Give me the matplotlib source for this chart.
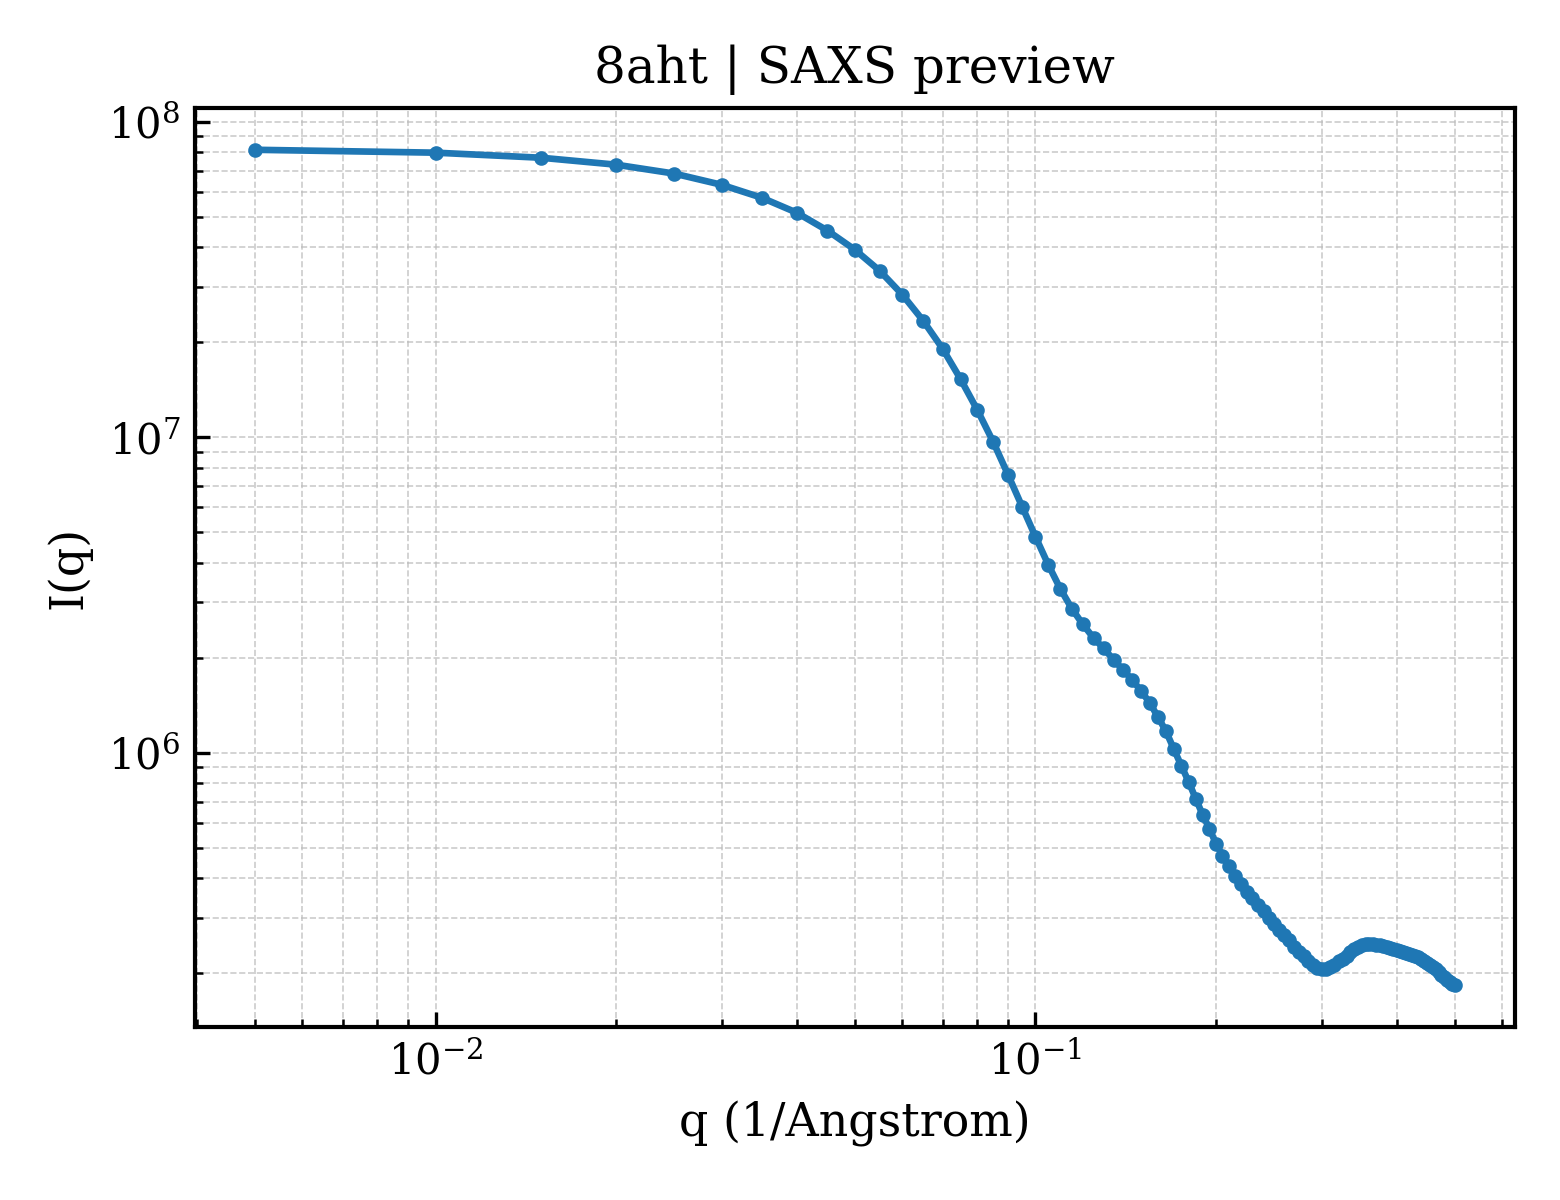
import numpy as np
import matplotlib
matplotlib.use("Agg")
import matplotlib.pyplot as plt

plt.rcParams['font.family'] = ['DejaVu Serif']
plt.rcParams['mathtext.fontset'] = 'dejavuserif'

# q grid (1/Angstrom)
q = [0.005, 0.010, 0.015, 0.020, 0.025, 0.030, 0.035, 0.040, 0.045, 0.050,
     0.055, 0.060, 0.065, 0.070, 0.075, 0.080, 0.085, 0.090, 0.095, 0.100,
     0.105, 0.110, 0.115, 0.120, 0.125, 0.130, 0.135, 0.140, 0.145, 0.150,
     0.155, 0.160, 0.165, 0.170, 0.175, 0.180, 0.185, 0.190, 0.195, 0.200,
     0.205, 0.210, 0.215, 0.220, 0.225, 0.230, 0.235, 0.240, 0.245, 0.250,
     0.255, 0.260, 0.265, 0.270, 0.275, 0.280, 0.285, 0.290, 0.295, 0.300,
     0.305, 0.310, 0.315, 0.320, 0.325, 0.330, 0.335, 0.340, 0.345, 0.350,
     0.355, 0.360, 0.365, 0.370, 0.375, 0.380, 0.385, 0.390, 0.395, 0.400,
     0.405, 0.410, 0.415, 0.420, 0.425, 0.430, 0.435, 0.440, 0.445, 0.450,
     0.455, 0.460, 0.465, 0.470, 0.475, 0.480, 0.485, 0.490, 0.495, 0.500]

# intensity
intensity = [8.15e7, 7.98e7, 7.69e7, 7.31e7, 6.85e7, 6.31e7, 5.74e7, 5.15e7, 4.52e7, 3.93e7,
             3.37e7, 2.83e7, 2.34e7, 1.91e7, 1.53e7, 1.22e7, 9.68e6, 7.61e6, 6.03e6, 4.84e6,
             3.95e6, 3.31e6, 2.86e6, 2.55e6, 2.31e6, 2.14e6, 1.97e6, 1.83e6, 1.70e6, 1.57e6,
             1.44e6, 1.30e6, 1.17e6, 1.03e6, 9.10e5, 8.10e5, 7.15e5, 6.36e5, 5.74e5, 5.15e5,
             4.72e5, 4.39e5, 4.08e5, 3.85e5, 3.63e5, 3.47e5, 3.30e5, 3.16e5, 3.00e5, 2.87e5,
             2.75e5, 2.65e5, 2.54e5, 2.43e5, 2.34e5, 2.27e5, 2.19e5, 2.13e5, 2.08e5, 2.07e5,
             2.07e5, 2.10e5, 2.13e5, 2.18e5, 2.22e5, 2.27e5, 2.34e5, 2.39e5, 2.43e5, 2.46e5,
             2.48e5, 2.48e5, 2.48e5, 2.46e5, 2.45e5, 2.44e5, 2.43e5, 2.41e5, 2.39e5, 2.37e5,
             2.36e5, 2.34e5, 2.32e5, 2.31e5, 2.29e5, 2.27e5, 2.25e5, 2.22e5, 2.19e5, 2.16e5,
             2.13e5, 2.10e5, 2.06e5, 2.02e5, 1.98e5, 1.94e5, 1.91e5, 1.88e5, 1.85e5, 1.83e5]

title = "8aht | SAXS preview"
xlabel = "q (1/Angstrom)"
ylabel = "I(q)"

fig, ax = plt.subplots(figsize=(5.2, 4), dpi=300)
ax.plot(q, intensity, '-o', color='#1f77b4', lw=1.6, ms=2.5)
ax.set_xscale('log')
ax.set_yscale('log')
ax.set_title(title, fontsize=12)
ax.set_xlabel(xlabel, fontsize=11)
ax.set_ylabel(ylabel, fontsize=11)
ax.tick_params(which='both', direction='in', labelsize=10)
ax.grid(True, which='both', linestyle='--', linewidth=0.4, color='#bbbbbb', alpha=0.75)
for s in ax.spines.values():
    s.set_linewidth(1.0)

fig.subplots_adjust(left=0.125, right=0.971, top=0.91, bottom=0.144)
fig.savefig("out.png", dpi=300)
